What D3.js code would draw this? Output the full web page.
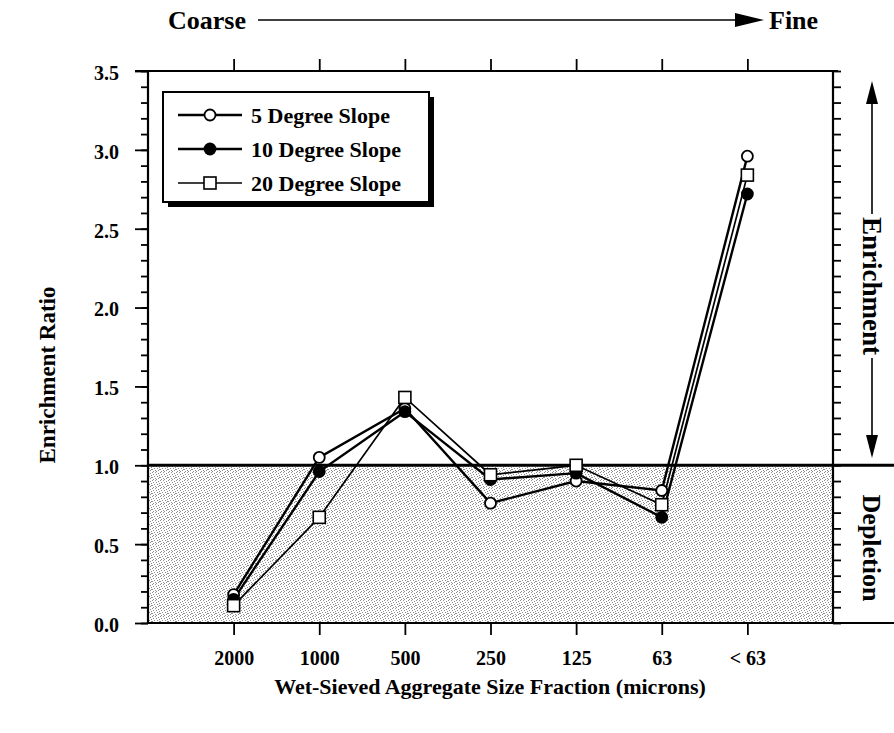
<!DOCTYPE html>
<html>
<head>
<meta charset="utf-8">
<script src="https://cdn.jsdelivr.net/npm/d3@7"></script>
<style>
  html, body { margin: 0; padding: 0; background: #fff; }
  svg { display: block; }
  text { font-family: "Liberation Serif", "Times New Roman", serif; font-weight: bold; fill: #000; }
</style>
</head>
<body>
<svg id="chart" width="894" height="733"></svg>
<script>
// Size fractions, coarse to fine
const categories = ["2000", "1000", "500", "250", "125", "63", "< 63"];

// Enrichment ratio for each slope
const slope5  = [0.18, 1.05, 1.36, 0.76, 0.90, 0.84, 2.96];
const slope10 = [0.15, 0.96, 1.34, 0.91, 0.95, 0.67, 2.72];
const slope20 = [0.11, 0.67, 1.43, 0.94, 1.00, 0.75, 2.84];

const seriesNames = ["5 Degree Slope", "10 Degree Slope", "20 Degree Slope"];
const yMajorTicks = [0, 0.5, 1.0, 1.5, 2.0, 2.5, 3.0, 3.5];

const svg = d3.select("#chart");
const plotLeft = 148, plotRight = 833, plotTop = 71, plotBottom = 623;

const x = d3.scalePoint().domain(categories).range([plotLeft, plotRight]).padding(1);
const y = d3.scaleLinear().domain([0, 3.5]).range([plotBottom, plotTop]);
const yMinor = d3.range(0, 36).map(i => i / 10);

// Stippled fill for the depletion band
const defs = svg.append("defs");
const pat = defs.append("pattern").attr("id", "stipple")
  .attr("width", 8).attr("height", 8).attr("patternUnits", "userSpaceOnUse");
pat.append("rect").attr("width", 8).attr("height", 8).attr("fill", "#fff");
[[0, 0], [3, 0], [6, 1], [1, 2], [4, 2], [7, 3], [2, 4], [5, 4], [0, 5], [7, 5], [3, 6], [6, 6], [1, 7], [4, 7]]
  .forEach(([px, py]) =>
    pat.append("rect").attr("x", px).attr("y", py).attr("width", 1).attr("height", 1).attr("fill", "#8c8c8c"));

svg.append("rect")
  .attr("x", plotLeft).attr("y", y(1)).attr("width", plotRight - plotLeft).attr("height", y(0) - y(1))
  .attr("fill", "url(#stipple)");

function styleAxis(g) {
  g.select(".domain").remove();
  g.selectAll(".tick line").attr("stroke", "#000").attr("stroke-width", 1.8);
  g.selectAll(".tick text").style("font-size", "20px");
}

// Left axis: major and minor ticks
svg.append("g").attr("transform", `translate(${plotLeft},0)`)
  .call(d3.axisLeft(y).tickValues(yMinor).tickSize(7).tickFormat(""))
  .call(styleAxis);
svg.append("g").attr("transform", `translate(${plotLeft},0)`)
  .call(d3.axisLeft(y).tickValues(yMajorTicks).tickSize(13).tickPadding(16).tickFormat(d3.format(".1f")))
  .call(styleAxis)
  .call(g => g.selectAll(".tick text").attr("dy", "0.42em"));

// Right axis ticks
svg.append("g").attr("transform", `translate(${plotRight},0)`)
  .call(d3.axisRight(y).tickValues(yMinor).tickSize(8).tickFormat(""))
  .call(styleAxis);

// Top and bottom category ticks
svg.append("g").attr("transform", `translate(0,${plotTop})`)
  .call(d3.axisTop(x).tickSize(12).tickFormat(""))
  .call(styleAxis);
svg.append("g").attr("transform", `translate(0,${plotBottom})`)
  .call(d3.axisBottom(x).tickSize(12).tickPadding(16))
  .call(styleAxis);

// Frame lines
const frame = svg.append("g").attr("stroke", "#000").attr("fill", "none");
frame.append("line").attr("x1", 135).attr("x2", plotRight + 5).attr("y1", plotTop).attr("y2", plotTop).attr("stroke-width", 2);
frame.append("line").attr("x1", plotLeft).attr("x2", plotLeft).attr("y1", plotTop).attr("y2", plotBottom).attr("stroke-width", 2.2);
frame.append("line").attr("x1", plotRight).attr("x2", plotRight).attr("y1", plotTop).attr("y2", plotBottom).attr("stroke-width", 2.2);
frame.append("line").attr("x1", plotLeft).attr("x2", 894).attr("y1", plotBottom).attr("y2", plotBottom).attr("stroke-width", 2.2);
frame.append("line").attr("x1", plotLeft).attr("x2", 894).attr("y1", y(1)).attr("y2", y(1)).attr("stroke-width", 3);

// Series lines and markers
const line = d3.line().x((d, i) => x(categories[i])).y(d => y(d));
const series = [
  { name: seriesNames[0], values: slope5,  width: 2.4, marker: "open" },
  { name: seriesNames[1], values: slope10, width: 2.4, marker: "filled" },
  { name: seriesNames[2], values: slope20, width: 1.7, marker: "square" }
];

function drawMarker(g, type, cx, cy) {
  if (type === "open") {
    g.append("circle").attr("cx", cx).attr("cy", cy).attr("r", 5.5)
      .attr("fill", "#fff").attr("stroke", "#000").attr("stroke-width", 1.8);
  } else if (type === "filled") {
    g.append("circle").attr("cx", cx).attr("cy", cy).attr("r", 6.4).attr("fill", "#000");
  } else {
    g.append("rect").attr("x", cx - 6).attr("y", cy - 6).attr("width", 12).attr("height", 12)
      .attr("fill", "#fff").attr("stroke", "#000").attr("stroke-width", 1.6);
  }
}

series.forEach(s => {
  svg.append("path").datum(s.values).attr("d", line)
    .attr("fill", "none").attr("stroke", "#000").attr("stroke-width", s.width)
    .attr("stroke-linejoin", "miter");
});
series.forEach(s => {
  const g = svg.append("g");
  s.values.forEach((v, i) => drawMarker(g, s.marker, x(categories[i]), y(v)));
});

// Legend with drop shadow
const lg = svg.append("g");
const lx = 163, ly = 92, lw = 266, lh = 110;
lg.append("rect").attr("x", lx + 5).attr("y", ly + 5).attr("width", lw).attr("height", lh).attr("fill", "#000");
lg.append("rect").attr("x", lx).attr("y", ly).attr("width", lw).attr("height", lh)
  .attr("fill", "#fff").attr("stroke", "#000").attr("stroke-width", 2);
series.forEach((s, i) => {
  const ry = 115 + i * 34;
  lg.append("line").attr("x1", 178).attr("x2", 242).attr("y1", ry).attr("y2", ry)
    .attr("stroke", "#000").attr("stroke-width", s.width);
  drawMarker(lg, s.marker, 210, ry);
  lg.append("text").attr("x", 251).attr("y", ry).attr("dy", "0.35em")
    .style("font-size", "22px").text(s.name);
});

// Coarse -> Fine direction arrow
svg.append("text").attr("x", 168).attr("y", 29).style("font-size", "26px").text("Coarse");
svg.append("line").attr("x1", 258).attr("x2", 745).attr("y1", 20).attr("y2", 20)
  .attr("stroke", "#000").attr("stroke-width", 1.6);
svg.append("path").attr("d", "M 735 13 L 764 20 L 735 27 Z").attr("fill", "#000");
svg.append("text").attr("x", 769).attr("y", 29).style("font-size", "26px").text("Fine");

// Enrichment / depletion side labels
const sx = 872;
svg.append("text").attr("transform", `translate(${sx},286) rotate(90)`)
  .attr("text-anchor", "middle").attr("dy", "0.33em").style("font-size", "27px").text("Enrichment");
svg.append("text").attr("transform", `translate(${sx},548) rotate(90)`)
  .attr("text-anchor", "middle").attr("dy", "0.33em").style("font-size", "26px").text("Depletion");
const arrows = svg.append("g");
arrows.append("line").attr("x1", sx).attr("x2", sx).attr("y1", 214).attr("y2", 98)
  .attr("stroke", "#000").attr("stroke-width", 1.6);
arrows.append("path").attr("d", `M ${sx - 6} 104 L ${sx} 81 L ${sx + 6} 104 Z`).attr("fill", "#000");
arrows.append("line").attr("x1", sx).attr("x2", sx).attr("y1", 358).attr("y2", 440)
  .attr("stroke", "#000").attr("stroke-width", 1.6);
arrows.append("path").attr("d", `M ${sx - 6} 435 L ${sx} 458 L ${sx + 6} 435 Z`).attr("fill", "#000");

// Axis titles
svg.append("text").attr("transform", `translate(47,${(plotTop + plotBottom) / 2 + 28}) rotate(-90)`)
  .attr("text-anchor", "middle").attr("dy", "0.33em").style("font-size", "23px").text("Enrichment Ratio");
svg.append("text").attr("x", 490).attr("y", 694).attr("text-anchor", "middle")
  .style("font-size", "22px").text("Wet-Sieved Aggregate Size Fraction (microns)");
</script>
</body>
</html>
